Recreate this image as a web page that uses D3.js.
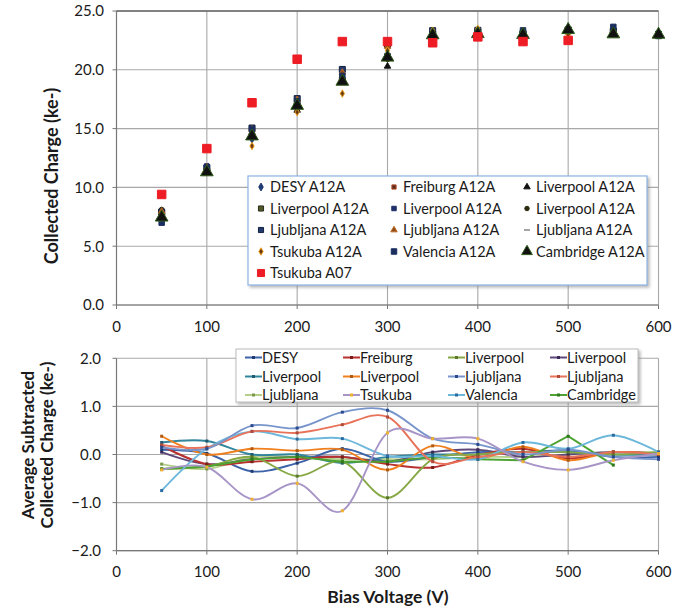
<!DOCTYPE html>
<html><head><meta charset="utf-8">
<script src="https://cdn.jsdelivr.net/npm/d3@7"></script>
<style>
body{margin:0;background:#fff}
svg{display:block}
text{font-family:Lato,'Open Sans',sans-serif;fill:#1a1a1a}
</style>
</head><body><svg id="c" width="689" height="611"></svg>
<script>
// ---------- DATA ----------
const voltages = [50,100,150,200,250,300,350,400,450,500,550,600];
const voltagesA07 = [50,100,150,200,250,300,350,400,450,500];
const xTicks = [0,100,200,300,400,500,600];
const topYTicks = [0,5,10,15,20,25];
const botYTicks = [-2,-1,0,1,2];

// Top plot: collected charge (ke-)
const desyA12A      = [7.85,11.57,14.10,16.82,19.27,21.05,22.95,23.20,23.15,23.38,23.20,22.95];
const freiburgA12A  = [7.93,11.35,14.30,16.90,19.10,21.00,22.73,23.14,23.22,23.22,23.30,23.02];
const liverpool1A12A= [7.45,11.30,14.40,16.55,19.00,20.30,22.90,23.15,23.15,23.35,23.25,23.05];
const liverpool2A12A= [7.80,11.35,14.35,16.95,19.10,21.05,23.05,23.25,23.05,23.30,23.30,23.00];
const liverpool3A12A= [8.00,11.83,14.45,17.00,18.97,21.15,23.00,23.15,23.15,23.35,23.25,23.00];
const liverpool4A12A= [8.13,11.55,14.57,17.08,19.25,20.88,23.18,23.07,23.26,23.18,23.30,23.00];
const ljubljana1A12A= [7.90,11.67,15.05,17.55,20.03,22.12,23.33,23.36,23.10,23.40,23.20,22.90];
const ljubljana2A12A= [7.95,11.70,14.93,17.45,19.77,21.98,22.85,23.10,23.15,23.25,23.30,23.00];
const ljubljana3A12A= [7.55,11.25,14.40,16.95,19.05,21.10,22.90,23.10,23.05,23.30,23.30,23.05];
const tsukubaA12A   = [7.43,11.29,13.52,16.40,17.98,21.65,23.33,23.48,22.95,22.98,23.13,23.02];
const valenciaA12A  = [7.00,11.67,14.93,17.32,19.48,21.17,22.97,23.05,23.35,23.42,23.65,23.05];
const cambridgeA12A = [7.45,11.30,14.35,16.95,19.00,21.05,22.95,23.05,22.98,23.40,23.03,23.00];
const tsukubaA07    = [9.40,13.30,17.20,20.90,22.40,22.40,22.30,22.80,22.40,22.50];

const topNames = ["DESY A12A","Freiburg A12A","Liverpool A12A","Liverpool A12A","Liverpool A12A","Liverpool A12A",
  "Ljubljana A12A","Ljubljana A12A","Ljubljana A12A","Tsukuba A12A","Valencia A12A","Cambridge A12A","Tsukuba A07"];

// Bottom plot: average-subtracted collected charge (ke-)
const desyDev       = [0.10,0.02,-0.35,-0.18,0.12,-0.15,-0.05,0.05,0.05,0.08,-0.05,-0.05];
const freiburgDev   = [0.18,-0.20,-0.15,-0.10,-0.05,-0.20,-0.27,-0.01,0.12,-0.08,0.05,0.02];
const liverpool1Dev = [-0.30,-0.25,-0.05,-0.45,-0.15,-0.90,-0.10,0.00,0.05,0.05,0.00,0.05];
const liverpool2Dev = [0.05,-0.20,-0.10,-0.05,-0.05,-0.15,0.05,0.10,-0.05,0.00,0.05,0.00];
const liverpool3Dev = [0.25,0.28,0.00,0.00,-0.18,-0.05,0.00,0.00,0.05,0.05,0.00,0.00];
const liverpool4Dev = [0.38,0.00,0.12,0.08,0.10,-0.32,0.18,-0.08,0.16,-0.12,0.05,0.00];
const ljubljana1Dev = [0.15,0.12,0.60,0.55,0.88,0.92,0.33,0.21,0.00,0.10,-0.05,-0.10];
const ljubljana2Dev = [0.20,0.15,0.48,0.45,0.62,0.78,-0.15,-0.05,0.05,-0.05,0.05,0.00];
const ljubljana3Dev = [-0.20,-0.30,-0.05,-0.05,-0.10,-0.10,-0.10,-0.05,-0.05,0.00,0.05,0.05];
const tsukubaDev    = [-0.32,-0.26,-0.93,-0.60,-1.17,0.45,0.33,0.33,-0.15,-0.32,-0.12,0.02];
const valenciaDev   = [-0.75,0.12,0.48,0.32,0.33,-0.03,-0.03,-0.10,0.25,0.12,0.40,0.05];
const cambridgeDev  = [-0.30,-0.25,-0.10,-0.05,-0.15,-0.15,-0.05,-0.10,-0.12,0.38,-0.22];

const botNames = ["DESY","Freiburg","Liverpool","Liverpool","Liverpool","Liverpool",
  "Ljubljana","Ljubljana","Ljubljana","Tsukuba","Valencia","Cambridge"];

// ---------- STYLES ----------
const topStyles = [
  {sym:d3.symbolDiamond, size:18, fill:"#1f3b73", stroke:"#1f3b73"},
  {sym:d3.symbolSquare, size:18, fill:"#5c2a1a", stroke:"#b5502d"},
  {sym:d3.symbolTriangle, size:18, fill:"#111", stroke:"#111"},
  {sym:d3.symbolSquare, size:36, fill:"#4f5a2a", stroke:"#2a2a1a"},
  {sym:d3.symbolSquare, size:20, fill:"#1f2f6b", stroke:"#1f2f6b"},
  {sym:d3.symbolCircle, size:16, fill:"#2c2c10", stroke:"#2c2c10"},
  {sym:d3.symbolSquare, size:36, fill:"#243a6e", stroke:"#132040"},
  {sym:d3.symbolTriangle, size:18, fill:"#8b4a1a", stroke:"#c06a20"},
  {sym:"dash", size:0, fill:"#888", stroke:"#888"},
  {sym:d3.symbolDiamond, size:16, fill:"#6a3a10", stroke:"#f0a020"},
  {sym:d3.symbolSquare, size:30, fill:"#1a2e60", stroke:"#1a2e60"},
  {sym:d3.symbolTriangle, size:70, fill:"#111", stroke:"#2f5a1a"},
  {sym:d3.symbolSquare, size:72, fill:"#ee1c24", stroke:"#ee1c24"}
];
const botColors = ["#3c63a8","#b8312f","#86a845","#5f497a","#31859c","#f07f1e",
  "#7895cb","#e8735a","#b5cf8a","#a895c8","#6db8da","#4da331"];
const botMarkers = ["#1f3b73","#7a1f1a","#5a7a2a","#3a2a55","#1f5a70","#b05a10",
  "#2a4a90","#b04a3a","#7a9a4a","#f0b030","#2a6aa0","#2f7a1a"];

// ---------- CHART ----------
const svg = d3.select("#c");
const x = d3.scaleLinear().domain([0,600]).range([116.5,658.5]);
const yTop = d3.scaleLinear().domain([0,25]).range([305,11]);
const yBot = d3.scaleLinear().domain([-2,2]).range([550.7,358.3]);
const gridColor = "#a8a8a8";

function frame(y, yTicks, fmt, labelX, xLabelY){
  const g = svg.append("g");
  g.selectAll(".hg").data(yTicks).join("line")
    .attr("x1",x(0)).attr("x2",x(600)).attr("y1",d=>y(d)).attr("y2",d=>y(d))
    .attr("stroke",gridColor).attr("stroke-width",1.1);
  g.selectAll(".vg").data(xTicks.slice(1)).join("line")
    .attr("x1",d=>x(d)).attr("x2",d=>x(d)).attr("y1",y.range()[1]).attr("y2",y.range()[0])
    .attr("stroke",gridColor).attr("stroke-width",1.1);
  g.append("line").attr("x1",x(0)).attr("x2",x(0)).attr("y1",y.range()[1]).attr("y2",y.range()[0])
    .attr("stroke","#777").attr("stroke-width",1.2);
  g.append("line").attr("x1",x(0)).attr("x2",x(600)).attr("y1",y.range()[0]).attr("y2",y.range()[0])
    .attr("stroke","#777").attr("stroke-width",1.2);
  g.selectAll(".yt").data(yTicks).join("line")
    .attr("x1",x(0)-4).attr("x2",x(0)).attr("y1",d=>y(d)).attr("y2",d=>y(d))
    .attr("stroke","#777");
  g.selectAll(".xt").data(xTicks).join("line")
    .attr("x1",d=>x(d)).attr("x2",d=>x(d)).attr("y1",y.range()[0]).attr("y2",y.range()[0]+4)
    .attr("stroke","#777");
  g.selectAll(".yl").data(yTicks).join("text")
    .attr("x",labelX).attr("y",d=>y(d)).attr("dy","0.36em").attr("text-anchor","end")
    .attr("font-size","15px").text(fmt);
  g.selectAll(".xl").data(xTicks).join("text")
    .attr("x",d=>x(d)).attr("y",xLabelY).attr("dy","0.36em").attr("text-anchor","middle")
    .attr("font-size","15px").text(d=>d);
}
frame(yTop, topYTicks, d=>d3.format(".1f")(d), 104, 327);
svg.append("line").attr("x1",x(0)).attr("x2",x(600)).attr("y1",yTop(25)).attr("y2",yTop(25))
  .attr("stroke","#666").attr("stroke-width",1.3);
frame(yBot, botYTicks, d=>d3.format(".1f")(d), 101, 572);

// axis titles
svg.append("text").attr("transform","translate(58,176) rotate(-90)").attr("text-anchor","middle")
  .attr("font-weight","bold").attr("font-size","18px").text("Collected Charge (ke-)");
svg.append("text").attr("transform","translate(34,445) rotate(-90)").attr("text-anchor","middle")
  .attr("font-weight","bold").attr("font-size","17px").text("Average Subtracted");
svg.append("text").attr("transform","translate(53,445) rotate(-90)").attr("text-anchor","middle")
  .attr("font-weight","bold").attr("font-size","17px").text("Collected Charge (ke-)");
svg.append("text").attr("x",388).attr("y",603).attr("text-anchor","middle")
  .attr("font-weight","bold").attr("font-size","17.5px").text("Bias Voltage (V)");

// ---------- TOP SCATTER ----------
const topSeries = [desyA12A,freiburgA12A,liverpool1A12A,liverpool2A12A,liverpool3A12A,liverpool4A12A,
  ljubljana1A12A,ljubljana2A12A,ljubljana3A12A,tsukubaA12A,valenciaA12A,cambridgeA12A,tsukubaA07];
function drawMarker(g, st){
  if(st.sym==="dash"){
    g.append("line").attr("x1",-3).attr("x2",3).attr("y1",0).attr("y2",0)
      .attr("stroke",st.stroke).attr("stroke-width",1.5);
  } else {
    g.append("path").attr("d",d3.symbol(st.sym,st.size)())
      .attr("fill",st.fill).attr("stroke",st.stroke).attr("stroke-width",1);
  }
}
topSeries.forEach((vals,i)=>{
  const xs = vals.length===voltages.length ? voltages : voltagesA07;
  const g = svg.append("g");
  vals.forEach((v,j)=>{
    const m = g.append("g").attr("transform",`translate(${x(xs[j])},${yTop(v)})`);
    drawMarker(m, topStyles[i]);
  });
});

// top legend
const tl = svg.append("g");
const defs = svg.append("defs");
const f = defs.append("filter").attr("id","sh").attr("x","-10%").attr("y","-10%").attr("width","130%").attr("height","130%");
f.append("feDropShadow").attr("dx",2).attr("dy",2).attr("stdDeviation",1.5).attr("flood-color","#888").attr("flood-opacity",0.6);
tl.append("rect").attr("x",248).attr("y",176).attr("width",399).attr("height",109)
  .attr("fill","#fff").attr("stroke","#8eb4e3").attr("stroke-width",1.2).attr("filter","url(#sh)");
const tlColX = [261,394,527], tlRowY = [187,208.5,230,251.5,273];
topNames.forEach((n,i)=>{
  const cx = tlColX[i%3], cy = tlRowY[Math.floor(i/3)];
  const m = tl.append("g").attr("transform",`translate(${cx},${cy})`);
  const st = Object.assign({}, topStyles[i]);
  if(i===12) st.size = 50;
  if(i===11) st.size = 50;
  if(i===3 || i===6) st.size = 26;
  drawMarker(m, st);
  tl.append("text").attr("x",cx+9).attr("y",cy).attr("dy","0.36em").attr("font-size","14.5px").text(n);
});

// ---------- BOTTOM LINES ----------
const botSeries = [desyDev,freiburgDev,liverpool1Dev,liverpool2Dev,liverpool3Dev,liverpool4Dev,
  ljubljana1Dev,ljubljana2Dev,ljubljana3Dev,tsukubaDev,valenciaDev,cambridgeDev];
const drawOrder = [8,3,4,0,1,5,2,11,10,7,6,9];
drawOrder.forEach(i=>{
  const vals = botSeries[i];
  const pts = vals.map((v,j)=>[voltages[j],v]);
  const line = d3.line().x(d=>x(d[0])).y(d=>yBot(d[1]))
    .curve(i===11 ? d3.curveLinear : d3.curveCardinal.tension(0));
  svg.append("path").attr("d",line(pts)).attr("fill","none")
    .attr("stroke",botColors[i]).attr("stroke-width",1.9);
  svg.append("g").selectAll("rect").data(pts).join("rect")
    .attr("x",d=>x(d[0])-1.5).attr("y",d=>yBot(d[1])-1.5).attr("width",3).attr("height",3)
    .attr("fill",botMarkers[i]);
});

// bottom legend
const bl = svg.append("g");
bl.append("rect").attr("x",236).attr("y",349).attr("width",402).attr("height",53)
  .attr("fill","#fff").attr("stroke","#bbb").attr("stroke-width",1).attr("filter","url(#sh)");
const blColX = [245,343,448,550], blRowY = [357.5,376.5,395];
botNames.forEach((n,i)=>{
  const cx = blColX[i%4], cy = blRowY[Math.floor(i/4)];
  bl.append("line").attr("x1",cx).attr("x2",cx+17).attr("y1",cy).attr("y2",cy)
    .attr("stroke",botColors[i]).attr("stroke-width",2);
  bl.append("rect").attr("x",cx+7).attr("y",cy-1.5).attr("width",3).attr("height",3).attr("fill",botMarkers[i]);
  bl.append("text").attr("x",cx+17).attr("y",cy).attr("dy","0.36em").attr("font-size","14.5px").text(n);
});
</script></body></html>
